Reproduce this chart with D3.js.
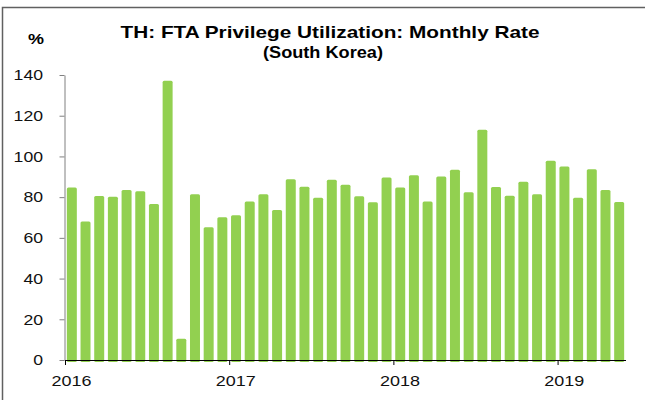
<!DOCTYPE html>
<html>
<head>
<meta charset="utf-8">
<script src="https://cdn.jsdelivr.net/npm/d3@7"></script>
<style>
  body { margin: 0; background: #fff; }
  text { font-family: Arial, "Liberation Sans", sans-serif; }
</style>
</head>
<body>
<div id="chart"></div>
<script>
'use strict';

// monthly rate, Jan 2016 .. May 2019
var months = [];
var startYear = 2016;
for (var m = 0; m < 41; m++) {
  months.push((startYear + Math.floor(m / 12)) + "-" + String(m % 12 + 1).padStart(2, "0"));
}
var rates = [
  84.7, 68.0, 80.6, 80.2, 83.5, 82.9, 76.6, 137.2, 10.5, 81.4, 65.2, 70.1,
  71.1, 77.9, 81.4, 73.7, 88.8, 85.1, 79.7, 88.6, 86.1, 80.4, 77.5, 89.6,
  84.7, 90.7, 77.8, 90.1, 93.5, 82.4, 113.1, 85.0, 80.7, 87.6, 81.4, 97.9,
  95.0, 79.7, 93.7, 83.5, 77.6
];
var yearLabels = ["2016", "2017", "2018", "2019"];
var yTicks = [0, 20, 40, 60, 80, 100, 120, 140];

var W = 645, H = 400;
// the source picture is a little wider than the font, so text is stretched
var digitW = 9.8;

var svg = d3.select("#chart").append("svg")
  .attr("width", W).attr("height", H);

// frame
svg.append("path")
  .attr("d", "M645,7.5H2.5V400")
  .attr("fill", "none")
  .attr("stroke", "#606060")
  .attr("stroke-width", 1.5);

var x = d3.scaleBand()
  .domain(months)
  .range([65, 626])
  .paddingInner(0.27)
  .paddingOuter(0.135);

var y = d3.scaleLinear()
  .domain([0, 140])
  .range([360, 75]);

// title
svg.append("text")
  .attr("x", 120.5).attr("y", 37.5)
  .attr("textLength", 419).attr("lengthAdjust", "spacingAndGlyphs")
  .style("font-size", "17px").style("font-weight", "bold")
  .text("TH: FTA Privilege Utilization: Monthly Rate");
svg.append("text")
  .attr("x", 263).attr("y", 58)
  .attr("textLength", 120).attr("lengthAdjust", "spacingAndGlyphs")
  .style("font-size", "17px").style("font-weight", "bold")
  .text("(South Korea)");
svg.append("text")
  .attr("x", 28).attr("y", 44)
  .attr("textLength", 16).attr("lengthAdjust", "spacingAndGlyphs")
  .style("font-size", "15px").style("font-weight", "bold")
  .text("%");

// y axis
var yAxis = svg.append("g")
  .attr("transform", "translate(64.5,0)")
  .call(d3.axisLeft(y).tickValues(yTicks).tickSize(5).tickSizeOuter(0).tickPadding(16.5));
yAxis.select(".domain").attr("stroke", "#808080");
yAxis.selectAll(".tick line").attr("stroke", "#808080");
yAxis.selectAll("text")
  .attr("fill", "#111")
  .attr("textLength", function(d) { return String(d).length * digitW; })
  .attr("lengthAdjust", "spacingAndGlyphs")
  .style("font-size", "15px")
  .style("font-family", "Arial, 'Liberation Sans', sans-serif");

// bars
svg.append("g").selectAll("rect")
  .data(rates)
  .enter()
  .append("rect")
  .attr("x", function(d, i) { return x(months[i]); })
  .attr("y", function(d) { return y(d); })
  .attr("width", x.bandwidth())
  .attr("height", function(d) { return y(0) - y(d) + 2; })
  .attr("rx", 1.5)
  .attr("fill", "#92d050");

// x axis
var tickOffset = x.step() * x.paddingInner() / 2;
svg.append("line")
  .attr("x1", 65).attr("x2", 626)
  .attr("y1", 360.5).attr("y2", 360.5)
  .attr("stroke", "#000");

var xt = svg.append("g").selectAll("g")
  .data(yearLabels)
  .enter()
  .append("g")
  .attr("transform", function(d) { return "translate(" + (x(d + "-01") - tickOffset) + ",0)"; });
xt.append("line")
  .attr("x1", 0.5).attr("x2", 0.5)
  .attr("y1", 360).attr("y2", 365)
  .attr("stroke", "#000");
xt.append("text")
  .attr("x", -13.4).attr("y", 386)
  .attr("textLength", 40).attr("lengthAdjust", "spacingAndGlyphs")
  .style("font-size", "15px")
  .attr("fill", "#111")
  .text(function(d) { return d; });
</script>
</body>
</html>
